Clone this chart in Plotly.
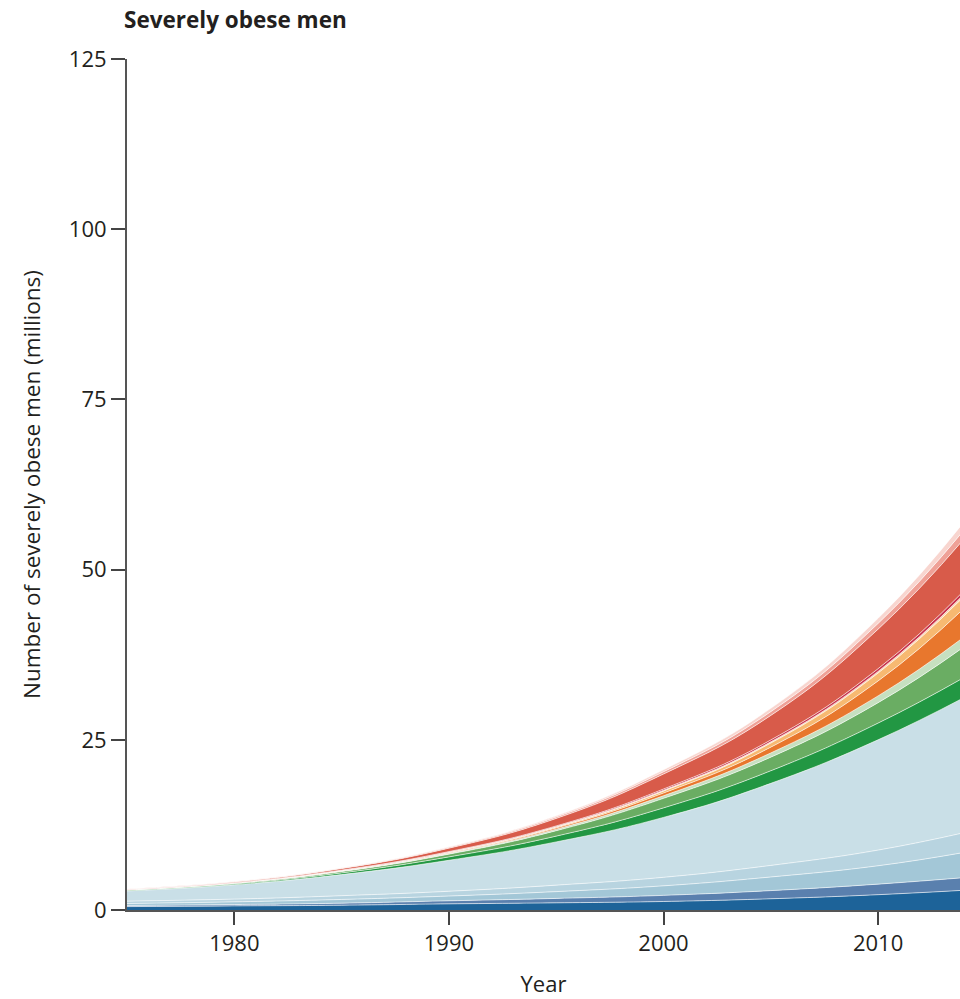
import plotly.graph_objects as go

years = [1975, 1980, 1985, 1990, 1995, 2000, 2005, 2010, 2014]

# stacked layers, bottom to top (millions)
dark_blue    = [0.50, 0.60, 0.70, 0.90, 1.05, 1.25, 1.65, 2.25, 2.90]
mid_blue     = [0.15, 0.20, 0.30, 0.45, 0.65, 0.90, 1.20, 1.55, 1.85]
light_blue   = [0.30, 0.40, 0.55, 0.70, 1.00, 1.40, 2.00, 2.70, 3.70]
lighter_blue = [0.35, 0.40, 0.55, 0.70, 0.95, 1.25, 1.70, 2.30, 2.90]
pale_blue    = [1.50, 2.10, 3.10, 4.55, 6.35, 8.80, 12.05, 16.2, 19.85]
dark_green   = [0.08, 0.12, 0.25, 0.50, 0.85, 1.40, 1.85, 2.45, 2.95]
mid_green    = [0.07, 0.10, 0.20, 0.40, 0.80, 1.40, 2.00, 3.00, 4.50]
pale_green   = [0.02, 0.04, 0.07, 0.12, 0.22, 0.38, 0.62, 1.00, 1.45]
orange       = [0.01, 0.02, 0.04, 0.09, 0.18, 0.40, 0.85, 2.20, 4.20]
light_orange = [0.01, 0.02, 0.04, 0.07, 0.13, 0.28, 0.60, 1.15, 1.75]
peach        = [0.01, 0.02, 0.03, 0.05, 0.08, 0.13, 0.18, 0.25, 0.32]
dark_red     = [0.01, 0.02, 0.03, 0.05, 0.09, 0.18, 0.28, 0.40, 0.52]
red          = [0.05, 0.10, 0.22, 0.50, 1.10, 2.20, 3.60, 5.80, 7.60]
pink         = [0.02, 0.03, 0.06, 0.12, 0.20, 0.33, 0.55, 0.85, 1.30]
pale_pink    = [0.02, 0.03, 0.06, 0.10, 0.18, 0.30, 0.50, 0.75, 1.20]

layers = [
    ("Layer 1", dark_blue, "#1d6399"),
    ("Layer 2", mid_blue, "#5a80ae"),
    ("Layer 3", light_blue, "#a3c7d7"),
    ("Layer 4", lighter_blue, "#b8d4e0"),
    ("Layer 5", pale_blue, "#c9dfe7"),
    ("Layer 6", dark_green, "#229743"),
    ("Layer 7", mid_green, "#6aad63"),
    ("Layer 8", pale_green, "#c6e0c0"),
    ("Layer 9", orange, "#e8772d"),
    ("Layer 10", light_orange, "#f7b971"),
    ("Layer 11", peach, "#fbd5b0"),
    ("Layer 12", dark_red, "#c8324c"),
    ("Layer 13", red, "#d85b4a"),
    ("Layer 14", pink, "#efa197"),
    ("Layer 15", pale_pink, "#f8d5cf"),
]

y_ticks = [0, 25, 50, 75, 100, 125]
x_ticks = [1980, 1990, 2000, 2010]

fig = go.Figure()
for name, vals, col in layers:
    fig.add_trace(go.Scatter(
        x=years, y=vals, name=name, mode="lines", stackgroup="one",
        line=dict(width=0.7, color="rgba(255,255,255,0.85)", shape="spline", smoothing=1.3),
        fillcolor=col, hoverinfo="skip",
    ))

font_family = "'Open Sans', Lato, sans-serif"
txt = "#231f20"
fig.update_layout(
    width=960, height=999,
    margin=dict(l=127, r=0, t=59, b=89),
    paper_bgcolor="white", plot_bgcolor="white",
    showlegend=False,
    font=dict(family=font_family, size=22, color=txt),
    title=dict(text="<b>Severely obese men</b>", x=124/960, xanchor="left",
               y=1 - 20/999, yanchor="middle",
               font=dict(family=font_family, size=22.5, color=txt)),
)
fig.update_xaxes(
    range=[1975, 1975 + 833/21.46], tickvals=x_ticks,
    ticks="outside", ticklen=13, tickwidth=1.5, tickcolor="#444",
    showline=True, linecolor="#555", linewidth=2,
    showgrid=False, zeroline=False,
    title=dict(text="Year", standoff=20, font=dict(size=22)),
    tickfont=dict(size=22),
)
fig.update_yaxes(
    range=[0, 125], tickvals=y_ticks,
    ticks="outside", ticklen=14, tickwidth=1.5, tickcolor="#444",
    showline=True, linecolor="#555", linewidth=2,
    showgrid=False, zeroline=False,
    title=dict(text="Number of severely obese men (millions)", standoff=22, font=dict(size=22.5)),
    tickfont=dict(size=22),
)

fig.write_html(
    "out.html",
    config={"displayModeBar": False},
    post_script="document.body.style.margin='0';document.body.style.overflow='hidden';",
)
